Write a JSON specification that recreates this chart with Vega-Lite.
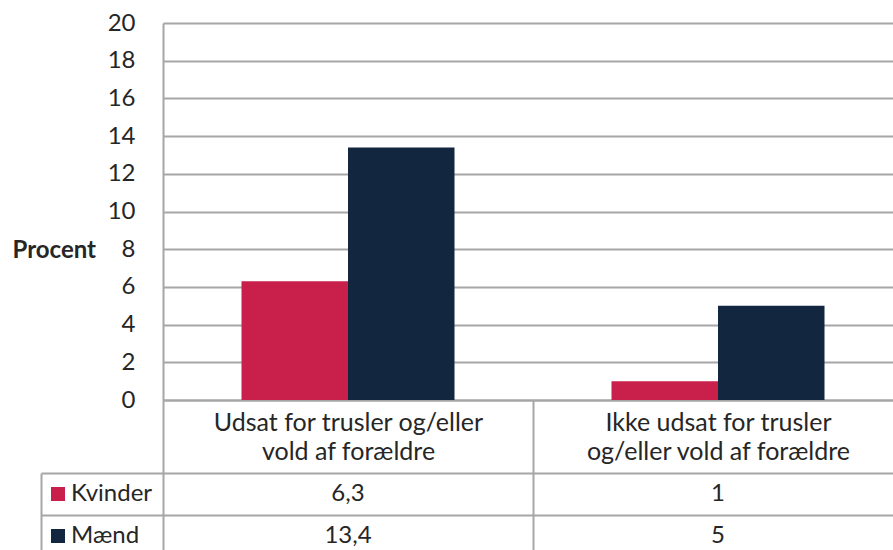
{
  "$schema": "https://vega.github.io/schema/vega-lite/v6.json",
  "autosize": {"type": "pad"},
  "padding": {"left": 12, "top": 11, "right": 0, "bottom": 0},
  "background": "white",
  "bounds": "flush",
  "spacing": 73,
  "config": {
    "font": "Lato",
    "view": {"stroke": null},
    "locale": {"number": {"decimal": ",", "thousands": ".", "grouping": [3], "currency": ["", " kr."]}},
    "legend": {"orient": "none"}
  },
  "datasets": {
    "vals": [
      {"gruppe": "Udsat for trusler og/eller|vold af forældre", "køn": "Kvinder", "procent": 6.3},
      {"gruppe": "Udsat for trusler og/eller|vold af forældre", "køn": "Mænd", "procent": 13.4},
      {"gruppe": "Ikke udsat for trusler|og/eller vold af forældre", "køn": "Kvinder", "procent": 1},
      {"gruppe": "Ikke udsat for trusler|og/eller vold af forældre", "køn": "Mænd", "procent": 5}
    ]
  },
  "vconcat": [
    {
      "width": 740,
      "height": 377,
      "data": {"name": "vals"},
      "mark": {"type": "bar"},
      "encoding": {
        "x": {
          "field": "gruppe", "type": "nominal", "sort": null,
          "scale": {"paddingInner": 0, "paddingOuter": 0},
          "axis": {
            "title": null, "orient": "bottom",
            "labelExpr": "split(datum.label, '|')",
            "labelAngle": 0, "labelFontSize": 25, "labelColor": "#262626",
            "labelLineHeight": 29, "labelPadding": -150, "labelBaseline": "top",
            "labelLimit": 400, "labelOverlap": false,
            "domainColor": "#a6a6a6", "domainWidth": 2,
            "tickBand": "extent", "tickSize": 160, "tickColor": "#a6a6a6", "tickWidth": 2
          }
        },
        "xOffset": {
          "field": "køn", "type": "nominal", "sort": ["Kvinder", "Mænd"],
          "scale": {"paddingInner": 0, "paddingOuter": 0.737}
        },
        "y": {
          "field": "procent", "type": "quantitative",
          "scale": {"domain": [0, 20], "nice": false},
          "axis": {
            "values": [0, 2, 4, 6, 8, 10, 12, 14, 16, 18, 20],
            "title": "Procent", "titleAngle": 0, "titleAlign": "left", "titleBaseline": "middle",
            "titleX": -151, "titleY": 227, "titleFontSize": 24, "titleFontWeight": "bold", "titleColor": "#262626",
            "labelFontSize": 24, "labelColor": "#262626", "labelPadding": 28,
            "ticks": false,
            "domainColor": "#a6a6a6", "domainWidth": 2,
            "gridColor": "#a6a6a6", "gridWidth": 2
          }
        },
        "color": {
          "field": "køn", "type": "nominal", "sort": ["Kvinder", "Mænd"],
          "scale": {"domain": ["Kvinder", "Mænd"], "range": ["#C8204B", "#12263F"]},
          "legend": {
            "title": null, "orient": "none", "legendX": -117, "legendY": 459,
            "symbolType": "square", "symbolSize": 196, "symbolStrokeWidth": 0,
            "labelFontSize": 24, "labelColor": "#262626", "labelOffset": 1,
            "rowPadding": 18, "padding": 0
          }
        }
      }
    },
    {
      "width": 740,
      "height": 84,
      "data": {"name": "vals"},
      "mark": {"type": "text", "fontSize": 24, "color": "#262626", "baseline": "middle"},
      "encoding": {
        "x": {
          "field": "gruppe", "type": "nominal", "sort": null,
          "scale": {"paddingInner": 0, "paddingOuter": 0},
          "axis": null
        },
        "y": {
          "field": "køn", "type": "nominal", "sort": ["Kvinder", "Mænd"],
          "scale": {"paddingInner": 0, "paddingOuter": 0},
          "axis": {
            "title": null, "orient": "left", "offset": 122,
            "labels": false,
            "domainColor": "#a6a6a6", "domainWidth": 2,
            "tickBand": "extent", "tickSize": -122, "tickColor": "#a6a6a6", "tickWidth": 2,
            "grid": true, "gridColor": "#a6a6a6", "gridWidth": 2
          }
        },
        "text": {"field": "procent", "type": "quantitative", "format": "~g"}
      }
    }
  ]
}
